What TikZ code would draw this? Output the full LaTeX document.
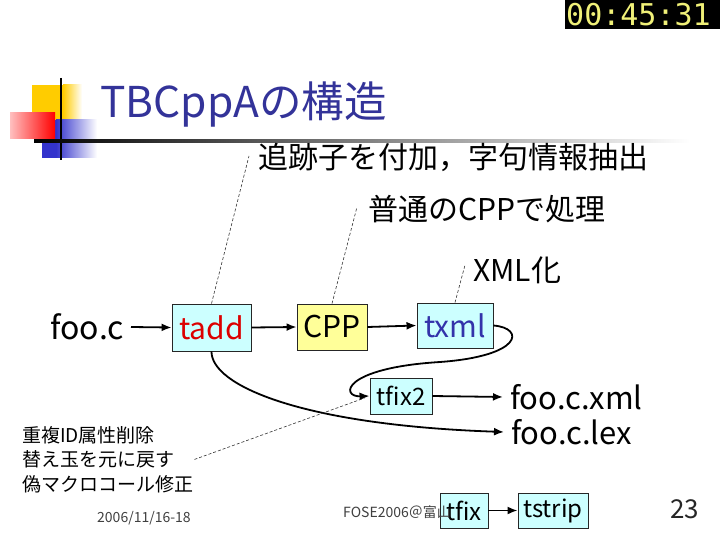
\documentclass[tikz,border=0pt]{standalone}
\usepackage{fontspec}
\setmainfont{Noto Sans CJK JP}
\newfontfamily\clockfont{DejaVu Sans Mono}
\usetikzlibrary{arrows.meta}
\definecolor{boxcyan}{RGB}{204,255,255}
\definecolor{boxyel}{RGB}{255,255,153}
\definecolor{titleblue}{RGB}{51,51,153}
\definecolor{taddred}{RGB}{220,0,0}
\definecolor{txmlblue}{RGB}{51,51,170}
\definecolor{clockyel}{RGB}{240,240,120}
\definecolor{tmplyel}{RGB}{255,204,0}
\definecolor{tmplred}{RGB}{255,0,0}
\definecolor{tmplblue}{RGB}{51,51,204}
\newcommand{\fs}[1]{\fontsize{#1}{#1}\selectfont}
\begin{document}
\begin{tikzpicture}[x=1pt,y=-1pt,
  procbox/.style={draw=black!85,line width=0.9pt,fill=boxcyan,inner sep=0pt},
  flow/.style={line width=1.8pt,-{Latex[length=10pt,width=8pt]}},
  leader/.style={line width=0.6pt,dash pattern=on 3pt off 2pt,draw=black!80},
  lbl/.style={inner sep=0pt,font=\fs{30}},
  fname/.style={inner xsep=7pt,inner ysep=0pt,font=\fs{31}}]
\useasboundingbox (0,0) rectangle (720,540);
\fill[white] (0,0) rectangle (720,540);
% clock
\fill[black] (565,0) rectangle (722,29);
\node[anchor=west,text=clockyel,font=\clockfont\fs{30},inner sep=0pt] (clock) at (566,15) {00:45:31};
% template decoration
\fill[tmplyel] (32,85) rectangle (63,120);
\shade[left color=tmplyel,right color=white] (63,85) rectangle (82,120);
\fill[tmplblue] (42,120) rectangle (56,158);
\shade[left color=tmplblue,right color=white] (56,120) rectangle (97,158);
\shade[left color=red!25,right color=tmplred] (10,113) rectangle (55,139);
\draw[line width=2pt] (61,78) -- (61,160);
\shade[left color=black,middle color=black!50,right color=white] (34,140) rectangle (690,143);
% title
\node[anchor=base west,text=titleblue,font=\fs{42.5},inner sep=0pt] (title) at (100,118) {TBCppAの構造};
% labels
\node[lbl,anchor=west] (l1) at (258,157) {追跡子を付加，字句情報抽出};
\node[lbl,anchor=west] (l2) at (368,209) {普通のCPPで処理};
\node[lbl,anchor=west] (l3) at (473,270) {XML化};
% boxes
\node[procbox,minimum width=79pt,minimum height=47pt,text=taddred,font=\fs{30}] (tadd) at (211.5,327.5) {tadd};
\node[procbox,fill=boxyel,minimum width=70pt,minimum height=46pt,font=\fs{30}] (cpp) at (332,327) {CPP};
\node[procbox,minimum width=76pt,minimum height=45pt,text=txmlblue,font=\fs{30}] (txml) at (455,325.5) {txml};
\node[procbox,minimum width=62pt,minimum height=36pt,font=\fs{24}] (tfix2) at (401,396) {tfix2};
\node[procbox,minimum width=48pt,minimum height=35pt,font=\fs{24}] (tfix) at (464,510.5) {tfix};
\node[procbox,minimum width=70pt,minimum height=35pt,font=\fs{24}] (tstrip) at (553,510.5) {tstrip};
% file names
\node[fname,anchor=east,font=\fs{32}] (fooc) at (131,327) {foo.c};
\node[fname,anchor=west] (xml) at (503,397) {foo.c.xml};
\node[fname,anchor=west] (lex) at (504,432) {foo.c.lex};
% note
\node[anchor=north west,align=left,font=\fontsize{19}{24.5}\selectfont,inner sep=0pt] (note) at (22,426) {重複ID属性削除\\替え玉を元に戻す\\偽マクロコール修正};
% footer
\node[anchor=base west,font=\fs{14},text=black!75,inner sep=0pt] (date) at (97,522) {2006/11/16-18};
\node[anchor=base west,font=\fs{14},text=black!75,inner sep=0pt] (fose) at (343,517) {FOSE2006＠富山};
\node[anchor=base west,font=\fs{26},text=black!85,inner sep=0pt] (page) at (670,518) {23};
% connectors
\draw[flow] (fooc.east) -- (tadd.west);
\draw[flow] (tadd.east) -- (cpp.west);
\draw[flow] (cpp.east) -- (txml.west);
\draw[flow] (tfix2.east) -- (xml.west);
\draw[flow] (tfix.east) -- (tstrip.west);
\draw[flow] (tadd.south) .. controls (211,385) and (300,425) .. (lex.west);
\draw[flow] (txml.east) .. controls (525,328) and (523,356) .. (440,362) .. controls (342,368) and (340,397) .. (tfix2.west);
% leaders
\draw[leader] (tadd.north) -- ([xshift=-9pt,yshift=1pt]l1.west);
\draw[leader] (cpp.north) -- ([xshift=-11pt,yshift=2pt]l2.west);
\draw[leader] (txml.north) -- ([xshift=-8pt,yshift=5pt]l3.west);
\draw[leader] ([xshift=1pt]note.east) -- ([xshift=-5pt,yshift=-2pt]tfix2.west);
\end{tikzpicture}
\end{document}
